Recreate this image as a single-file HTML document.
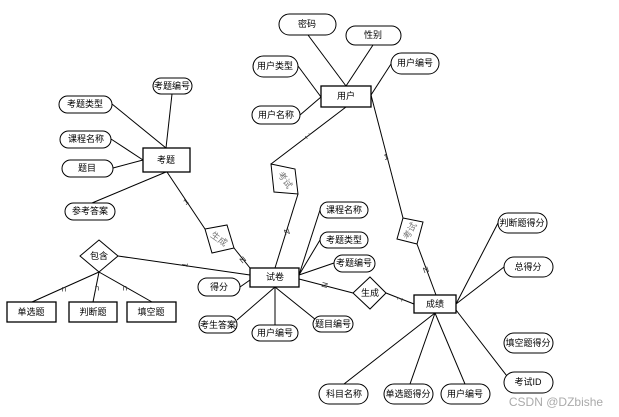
<!DOCTYPE html>
<html><head><meta charset="utf-8"><style>
html,body{margin:0;padding:0;background:#fff;}
svg{display:block;}
text{font-family:"Liberation Sans","Noto Sans CJK SC",sans-serif;font-size:9px;text-anchor:middle;dominant-baseline:central;fill:#000;}
.e{fill:#fff;stroke:#000;stroke-width:1;}
.r{fill:#fff;stroke:#000;stroke-width:1.3;}
.l{stroke:#000;stroke-width:1;fill:none;}
.g{fill:#777;}
.s{font-size:8px;fill:#333;}
</style></head><body>
<svg width="619" height="417" viewBox="0 0 619 417">
<g class="l">
<line x1="172" y1="94" x2="166" y2="148"/>
<line x1="112" y1="104" x2="166" y2="148"/>
<line x1="111" y1="139" x2="143" y2="160"/>
<line x1="113" y1="168" x2="143" y2="160"/>
<line x1="92" y1="203" x2="166" y2="172"/>
<line x1="167" y1="172" x2="205" y2="229"/>
<line x1="234" y1="248" x2="250" y2="268"/>
<line x1="118" y1="256" x2="250" y2="275"/>
<line x1="99" y1="272" x2="32" y2="302"/>
<line x1="99" y1="272" x2="93" y2="302"/>
<line x1="99" y1="272" x2="152" y2="302"/>
<line x1="346" y1="107" x2="271" y2="164"/>
<line x1="298" y1="194" x2="275" y2="268"/>
<line x1="371" y1="95" x2="403" y2="218"/>
<line x1="417" y1="244" x2="436" y2="295"/>
<line x1="308" y1="35" x2="346" y2="86"/>
<line x1="373" y1="45" x2="346" y2="86"/>
<line x1="298" y1="66" x2="321" y2="97"/>
<line x1="300" y1="115" x2="321" y2="97"/>
<line x1="391" y1="64" x2="371" y2="95"/>
<line x1="299" y1="275" x2="320" y2="210"/>
<line x1="299" y1="275" x2="320" y2="240"/>
<line x1="299" y1="275" x2="334" y2="263"/>
<line x1="240" y1="287" x2="250" y2="280"/>
<line x1="275" y1="287" x2="237" y2="320"/>
<line x1="275" y1="287" x2="275" y2="325"/>
<line x1="275" y1="287" x2="316" y2="320"/>
<line x1="299" y1="279" x2="353" y2="293"/>
<line x1="386" y1="293" x2="414" y2="304"/>
<line x1="456" y1="304" x2="498" y2="223"/>
<line x1="456" y1="304" x2="504" y2="267"/>
<line x1="456" y1="310" x2="510" y2="380"/>
<line x1="435" y1="313" x2="344" y2="384"/>
<line x1="435" y1="313" x2="410" y2="384"/>
<line x1="435" y1="313" x2="465" y2="384"/>
</g>
<text class="s" x="186" y="202" transform="rotate(-35 186 202)">1</text>
<text class="s" x="243" y="260" transform="rotate(-40 243 260)">N</text>
<text class="s" x="185" y="265" transform="rotate(-80 185 265)">1</text>
<text class="s" x="308" y="136" transform="rotate(52 308 136)">1</text>
<text class="s" x="287" y="232" transform="rotate(-20 287 232)">N</text>
<text class="s" x="386" y="157" transform="rotate(-15 386 157)">1</text>
<text class="s" x="426" y="270" transform="rotate(-20 426 270)">N</text>
<text class="s" x="325" y="285" transform="rotate(-75 325 285)">N</text>
<text class="s" x="400" y="299" transform="rotate(-65 400 299)">1</text>
<text class="s" x="64" y="289">n</text>
<text class="s" x="97" y="288">n</text>
<text class="s" x="125" y="288">n</text>
<polygon class="e" points="205,229 227,225 234,248 212,253"/>
<text class="g" x="219" y="239" transform="rotate(35 219 239)">生成</text>
<polygon class="e" points="271,164 295,169 298,194 274,192"/>
<text class="g" x="285" y="180" transform="rotate(55 285 180)">考试</text>
<polygon class="e" points="403,218 423,222 417,244 397,239"/>
<text class="g" x="410" y="231" transform="rotate(-60 410 231)">考试</text>
<polygon class="e" points="99,240 118,256 99,272 80,256"/>
<text x="99" y="256">包含</text>
<polygon class="e" points="370,277 386,293 370,309 353,293"/>
<text x="370" y="293">生成</text>
<rect class="r" x="143" y="148" width="47" height="24"/><text x="166" y="160">考题</text>
<rect class="r" x="321" y="86" width="50" height="21"/><text x="346" y="96">用户</text>
<rect class="r" x="250" y="268" width="49" height="19"/><text x="275" y="277">试卷</text>
<rect class="r" x="414" y="295" width="42" height="18"/><text x="435" y="304">成绩</text>
<rect class="r" x="7" y="302" width="49" height="20"/><text x="31" y="312">单选题</text>
<rect class="r" x="69" y="302" width="48" height="20"/><text x="93" y="312">判断题</text>
<rect class="r" x="127" y="302" width="49" height="20"/><text x="151" y="312">填空题</text>
<g>
<rect class="e" x="153" y="78" width="39" height="16" rx="8"/><text x="172" y="86">考题编号</text>
<rect class="e" x="59" y="96" width="53" height="17" rx="8.5"/><text x="85" y="104">考题类型</text>
<rect class="e" x="60" y="131" width="51" height="17" rx="8.5"/><text x="86" y="139">课程名称</text>
<rect class="e" x="62" y="160" width="51" height="17" rx="8.5"/><text x="87" y="168">题目</text>
<rect class="e" x="65" y="203" width="50" height="17" rx="8.5"/><text x="90" y="211">参考答案</text>
<rect class="e" x="279" y="14" width="57" height="21" rx="10.5"/><text x="307" y="24">密码</text>
<rect class="e" x="346" y="26" width="55" height="19" rx="9.5"/><text x="373" y="35">性别</text>
<rect class="e" x="253" y="56" width="45" height="21" rx="10.5"/><text x="275" y="66">用户类型</text>
<rect class="e" x="391" y="53" width="48" height="21" rx="10.5"/><text x="415" y="63">用户编号</text>
<rect class="e" x="252" y="106" width="48" height="18" rx="9"/><text x="276" y="115">用户名称</text>
<rect class="e" x="320" y="202" width="48" height="16" rx="8"/><text x="344" y="210">课程名称</text>
<rect class="e" x="320" y="232" width="48" height="16" rx="8"/><text x="344" y="240">考题类型</text>
<rect class="e" x="334" y="255" width="41" height="17" rx="8.5"/><text x="354" y="263">考题编号</text>
<rect class="e" x="198" y="278" width="42" height="18" rx="9"/><text x="219" y="287">得分</text>
<rect class="e" x="199" y="316" width="38" height="17" rx="8.5"/><text x="218" y="325">考生答案</text>
<rect class="e" x="252" y="325" width="46" height="16" rx="8"/><text x="275" y="333">用户编号</text>
<rect class="e" x="313" y="316" width="40" height="16" rx="8"/><text x="333" y="324">题目编号</text>
<rect class="e" x="498" y="213" width="49" height="20" rx="10"/><text x="522" y="223">判断题得分</text>
<rect class="e" x="504" y="257" width="49" height="20" rx="10"/><text x="528" y="267">总得分</text>
<rect class="e" x="504" y="333" width="49" height="20" rx="10"/><text x="528" y="343">填空题得分</text>
<rect class="e" x="504" y="372" width="49" height="21" rx="10.5"/><text x="528" y="382">考试ID</text>
<rect class="e" x="319" y="384" width="49" height="20" rx="10"/><text x="344" y="394">科目名称</text>
<rect class="e" x="384" y="384" width="49" height="20" rx="10"/><text x="408" y="394">单选题得分</text>
<rect class="e" x="441" y="384" width="49" height="20" rx="10"/><text x="465" y="394">用户编号</text>
</g>
<text x="556" y="402" style="font-size:12px;fill:#aaa;">CSDN @DZbishe</text>
</svg>
</body></html>
